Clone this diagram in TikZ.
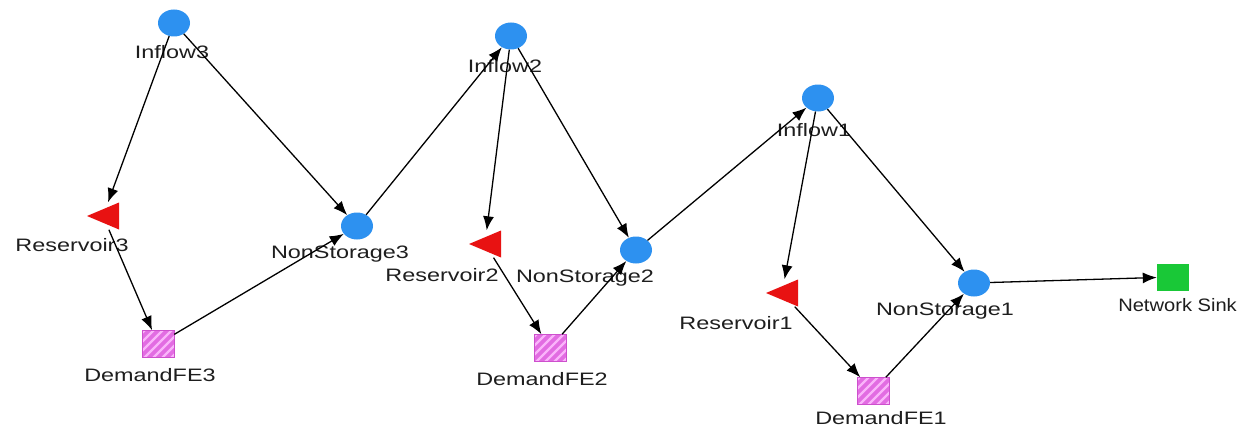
\documentclass[tikz,border=0pt]{standalone}
\usepackage{fontspec}
\setmainfont{Liberation Sans}[FakeStretch=1.3]
\usetikzlibrary{shapes.geometric,arrows.meta}

\definecolor{flowblue}{RGB}{45,145,240}
\definecolor{resred}{RGB}{232,18,18}
\definecolor{dempink}{RGB}{226,108,226}
\definecolor{demstripe}{RGB}{250,180,250}
\definecolor{demedge}{RGB}{205,80,205}
\definecolor{sinkgreen}{RGB}{25,200,55}
\definecolor{labelgray}{RGB}{30,30,30}

\begin{document}
\begin{tikzpicture}[x=1pt,y=-1pt,
  flownode/.style={ellipse, fill=flowblue, minimum width=32pt, minimum height=27pt, inner sep=0pt},
  resnode/.style={rectangle, minimum width=32pt, minimum height=27pt, inner sep=0pt,
    path picture={\fill[resred] (path picture bounding box.west) -- (path picture bounding box.north east)
      -- (path picture bounding box.south east) -- cycle;}},
  demnode/.style={rectangle, fill=dempink, draw=demedge, line width=0.6pt, minimum width=32pt,
    minimum height=27pt, inner sep=0pt,
    path picture={\foreach \k in {-27,-18,...,27}
      \draw[demstripe, line width=2.2pt] ([xshift=\k pt]path picture bounding box.center)
        ++(-20pt,-20pt) -- ++(40pt,40pt);}},
  sinknode/.style={rectangle, fill=sinkgreen, minimum width=32pt, minimum height=27pt, inner sep=0pt},
  tag/.style={text=labelgray, font=\fontsize{18}{20}\selectfont, inner sep=0pt},
  link/.style={draw=black, line width=1.3pt, -{Latex[length=14pt,width=11pt]}}
]
\fill[white] (0,0) rectangle (1239,428);
\useasboundingbox (0,0) rectangle (1239,428);

% model nodes
\node[flownode] (inflow3) at (174,23) {};
\node[resnode]  (res3)    at (103,216) {};
\node[demnode]  (dem3)    at (158,344) {};
\node[flownode] (ns3)     at (357,226) {};
\node[flownode] (inflow2) at (511,36) {};
\node[resnode]  (res2)    at (485,244) {};
\node[demnode]  (dem2)    at (550,348) {};
\node[flownode] (ns2)     at (636,250) {};
\node[flownode] (inflow1) at (818,98) {};
\node[resnode]  (res1)    at (782,293) {};
\node[demnode]  (dem1)    at (873,391) {};
\node[flownode] (ns1)     at (974,283) {};
\node[sinknode] (sink)    at (1173,277) {};

% node captions
\node[tag] (inflow3lbl) at (172,52)  {Inflow3};
\node[tag] (res3lbl)    at (72,245)  {Reservoir3};
\node[tag] (dem3lbl)    at (150,375) {DemandFE3};
\node[tag] (ns3lbl)     at (340,254) {NonStorage3};
\node[tag] (inflow2lbl) at (505,66)  {Inflow2};
\node[tag] (res2lbl)    at (442,275) {Reservoir2};
\node[tag] (dem2lbl)    at (542,379) {DemandFE2};
\node[tag] (ns2lbl)     at (585,278) {NonStorage2};
\node[tag] (inflow1lbl) at (814,130) {Inflow1};
\node[tag] (res1lbl)    at (736,323) {Reservoir1};
\node[tag] (dem1lbl)    at (881,418) {DemandFE1};
\node[tag] (ns1lbl)     at (945,311) {NonStorage1};
\node[tag, anchor=east] (sinklbl) at (1237,305) {\scalebox{0.86}[1]{Network Sink}};

% flow links
\draw[link] (inflow3) -- (res3);
\draw[link] (inflow3) -- (ns3);
\draw[link] (res3) -- (dem3);
\draw[link] (dem3) -- (ns3);
\draw[link] (ns3) -- (inflow2);
\draw[link] (inflow2) -- (res2);
\draw[link] (inflow2) -- (ns2);
\draw[link] (res2) -- (dem2);
\draw[link] (dem2) -- (ns2);
\draw[link] (ns2) -- (inflow1);
\draw[link] (inflow1) -- (res1);
\draw[link] (inflow1) -- (ns1);
\draw[link] (res1) -- (dem1);
\draw[link] (dem1) -- (ns1);
\draw[link] (ns1) -- (sink);
\end{tikzpicture}
\end{document}
